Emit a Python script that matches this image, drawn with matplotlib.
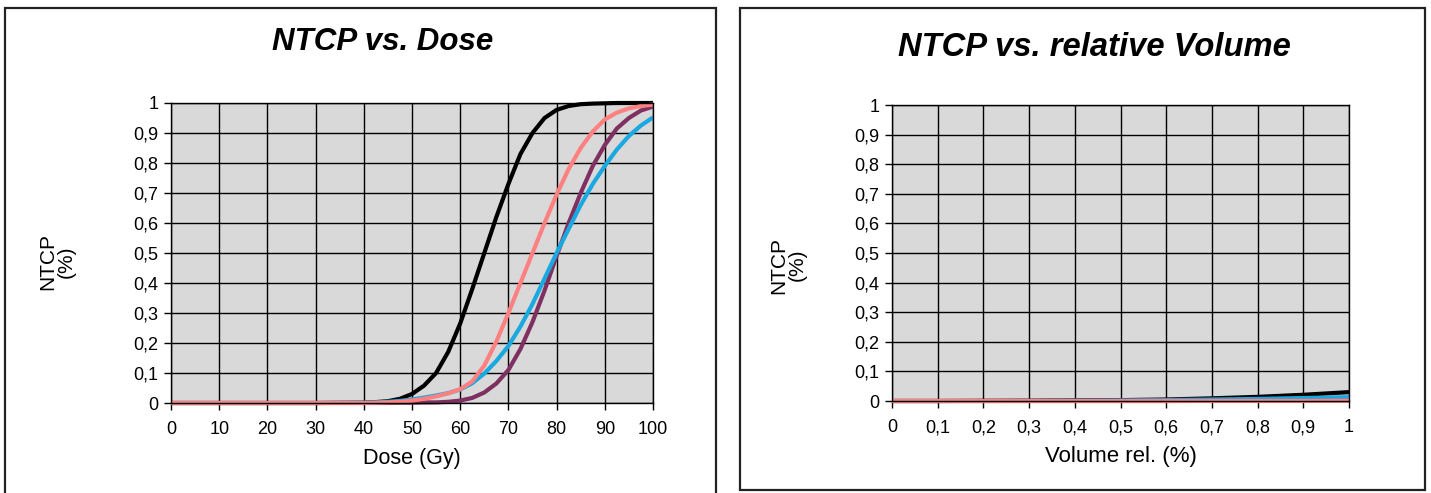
import matplotlib
matplotlib.use("Agg")
import matplotlib.pyplot as plt
from matplotlib.patches import Rectangle
from matplotlib.ticker import FuncFormatter

plt.rcParams['font.family'] = ['Liberation Sans', 'DejaVu Sans']

# NTCP vs. Dose
dose = [0, 10, 20, 30, 40, 42.5, 45, 47.5, 50, 52.5, 55, 57.5, 60, 62.5, 65, 67.5, 70,
        72.5, 75, 77.5, 80, 82.5, 85, 87.5, 90, 92.5, 95, 97.5, 100]
ntcp_black = [0, 0, 0, 0, 0.001, 0.003, 0.006, 0.014, 0.03, 0.058, 0.1, 0.17, 0.265, 0.38, 0.5,
              0.62, 0.73, 0.83, 0.9, 0.95, 0.977, 0.99, 0.996, 0.998, 0.999, 1.0, 1.0, 1.0, 1.0]
ntcp_pink = [0, 0, 0, 0, 0, 0.001, 0.002, 0.004, 0.008, 0.014, 0.022, 0.032, 0.046, 0.072, 0.125,
             0.205, 0.3, 0.4, 0.5, 0.6, 0.695, 0.78, 0.85, 0.905, 0.945, 0.968, 0.982, 0.99, 0.995]
ntcp_blue = [0, 0, 0, 0, 0.001, 0.002, 0.004, 0.007, 0.012, 0.018, 0.025, 0.033, 0.045, 0.066, 0.098,
             0.14, 0.19, 0.255, 0.33, 0.415, 0.5, 0.58, 0.66, 0.73, 0.79, 0.845, 0.89, 0.925, 0.952]
ntcp_purple = [0, 0, 0, 0, 0, 0, 0, 0.001, 0.001, 0.002, 0.002, 0.004, 0.008, 0.017, 0.035,
               0.065, 0.11, 0.18, 0.27, 0.375, 0.49, 0.6, 0.7, 0.79, 0.86, 0.915, 0.95, 0.975, 0.988]

# NTCP vs. relative volume
vol = [0, 0.1, 0.2, 0.3, 0.4, 0.5, 0.6, 0.7, 0.8, 0.9, 1.0]
vol_black = [0, 0, 0.0005, 0.001, 0.002, 0.003, 0.005, 0.009, 0.014, 0.021, 0.03]
vol_blue = [0, 0, 0, 0.0005, 0.001, 0.002, 0.003, 0.005, 0.007, 0.01, 0.013]
vol_purple = [0, 0, 0, 0, 0, 0, 0, 0.0005, 0.001, 0.001, 0.002]
vol_pink = [0, 0, 0, 0, 0, 0, 0, 0, 0, 0, 0.001]

colors = {'black': '#000000', 'pink': '#ff8080', 'blue': '#1aa8e0', 'purple': '#7e3060'}

W, H = 1431, 493
fig = plt.figure(figsize=(W / 100, H / 100), dpi=100)

def comma(v, pos):
    s = ('%.1f' % v).rstrip('0').rstrip('.')
    return s.replace('.', ',')

def setup(ax, xticks):
    ax.set_facecolor('#d9d9d9')
    ax.set_ylim(0, 1)
    ax.set_xlim(xticks[0], xticks[-1])
    ax.set_xticks(xticks)
    ax.set_yticks([i / 10 for i in range(11)])
    ax.xaxis.set_major_formatter(FuncFormatter(comma))
    ax.yaxis.set_major_formatter(FuncFormatter(comma))
    ax.grid(True, color='#000000', linewidth=1.0)
    ax.set_axisbelow(True)
    for s in ax.spines.values():
        s.set_color('#000000')
        s.set_linewidth(1.0)
    ax.tick_params(direction='out', length=5, width=1, labelsize=13, pad=4)
    ax.tick_params(axis='x', pad=8)

def draw(ax, x, series):
    for name, y in series:
        ax.plot(x, y, color=colors[name], lw=3.0, solid_capstyle='butt',
                solid_joinstyle='round', clip_on=False)

# left panel
ax1 = fig.add_axes([171 / W, 1 - 403 / H, (653 - 171) / W, (403 - 103) / H])
setup(ax1, list(range(0, 101, 10)))
draw(ax1, dose, [('black', ntcp_black), ('purple', ntcp_purple),
                 ('blue', ntcp_blue), ('pink', ntcp_pink)])
ax1.set_xlabel('Dose (Gy)', fontsize=15.5, labelpad=7)

# right panel
ax2 = fig.add_axes([892 / W, 1 - 401 / H, (1349 - 892) / W, (401 - 105) / H])
setup(ax2, vol)
draw(ax2, vol, [('black', vol_black), ('purple', vol_purple),
                ('blue', vol_blue), ('pink', vol_pink)])
ax2.set_xlabel('Volume rel. (%)', fontsize=16, labelpad=7)

# titles and y labels
fig.text(383 / W, 1 - 42 / H, 'NTCP vs. Dose', fontsize=22.5, fontweight='bold', fontstyle='italic',
         ha='center', va='center')
fig.text(1094 / W, 1 - 47 / H, 'NTCP vs. relative Volume', fontsize=23.6, fontweight='bold', fontstyle='italic',
         ha='center', va='center')
for x, y in ((57, 262), (788, 265)):
    fig.text(x / W, 1 - y / H, 'NTCP\n(%)', rotation=90, fontsize=15,
             ha='center', va='center', multialignment='center', linespacing=1.0)

# panel frames
fig.patches.append(Rectangle((5 / W, 1 - 498 / H), (716 - 5) / W, (498 - 8) / H, transform=fig.transFigure,
                             fill=False, edgecolor='#222222', linewidth=1.6))
fig.patches.append(Rectangle((740 / W, 1 - 490 / H), (1425 - 740) / W, (490 - 8) / H, transform=fig.transFigure,
                             fill=False, edgecolor='#222222', linewidth=1.6))

fig.savefig('out.png', dpi=100, facecolor='white')
